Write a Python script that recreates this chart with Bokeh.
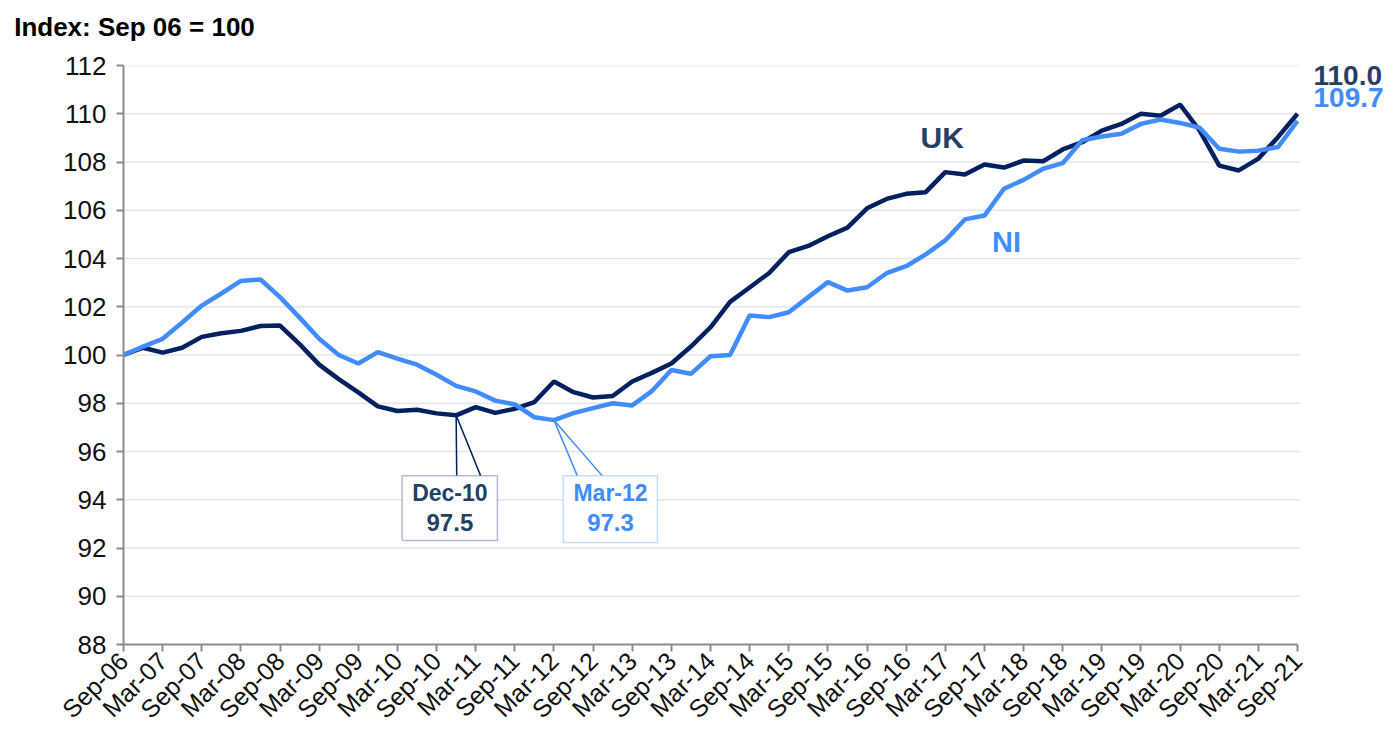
import math
from bokeh.plotting import figure
from bokeh.models import Range1d, FixedTicker, Label, BoxAnnotation, LinearAxis
from bokeh.embed import file_html
from bokeh.resources import INLINE

# ---- data (quarterly, Sep-06 .. Sep-21) ----
title_text = "Index: Sep 06 = 100"

tick_labels = ["Sep-06", "Mar-07", "Sep-07", "Mar-08", "Sep-08", "Mar-09", "Sep-09",
               "Mar-10", "Sep-10", "Mar-11", "Sep-11", "Mar-12", "Sep-12", "Mar-13",
               "Sep-13", "Mar-14", "Sep-14", "Mar-15", "Sep-15", "Mar-16", "Sep-16",
               "Mar-17", "Sep-17", "Mar-18", "Sep-18", "Mar-19", "Sep-19", "Mar-20",
               "Sep-20", "Mar-21", "Sep-21"]

uk = [100.0, 100.3, 100.1, 100.3, 100.75, 100.9, 101.0, 101.2, 101.22, 100.45,
      99.6, 99.0, 98.45, 97.87, 97.68, 97.73, 97.58, 97.5, 97.84, 97.6,
      97.77, 98.05, 98.9, 98.46, 98.24, 98.3, 98.9, 99.26, 99.65, 100.35,
      101.15, 102.2, 102.8, 103.4, 104.26, 104.52, 104.92, 105.28, 106.08, 106.47,
      106.68, 106.75, 107.58, 107.48, 107.9, 107.77, 108.06, 108.03, 108.52, 108.82,
      109.3, 109.58, 110.0, 109.92, 110.38, 109.3, 107.85, 107.65, 108.14, 109.03,
      110.0]

ni = [100.0, 100.35, 100.67, 101.35, 102.05, 102.55, 103.07, 103.13, 102.4, 101.55,
      100.67, 100.0, 99.65, 100.12, 99.85, 99.6, 99.18, 98.72, 98.49, 98.11,
      97.95, 97.42, 97.3, 97.59, 97.8, 98.0, 97.91, 98.5, 99.38, 99.22,
      99.95, 100.0, 101.64, 101.57, 101.77, 102.4, 103.02, 102.67, 102.81, 103.39,
      103.68, 104.17, 104.75, 105.62, 105.78, 106.89, 107.26, 107.72, 107.95, 108.9,
      109.06, 109.17, 109.58, 109.76, 109.62, 109.42, 108.55, 108.43, 108.47, 108.62,
      109.7]

y_ticks = list(range(88, 113, 2))

x = list(range(len(uk)))
x_last = len(uk) - 1

UK_LINE = "#002060"
NI_LINE = "#418CFF"
UK_TEXT = "#263F66"
FONT = "Liberation Sans"

W, H = 1392, 736
LEFT, RIGHT, TOP, BOTTOM = 123, 4, 65, 92
frame_w = W - LEFT - RIGHT
px_per_q = (1297 - 123) / x_last
x_end = frame_w / px_per_q

p = figure(width=W, height=H, x_range=Range1d(0, x_end), y_range=Range1d(88, 112),
           output_backend="svg", toolbar_location=None,
           min_border_left=LEFT, min_border_right=RIGHT, min_border_top=TOP,
           min_border_bottom=BOTTOM)
p.outline_line_color = None
p.background_fill_color = "white"
p.xgrid.visible = False
p.ygrid.visible = False

# title, drawn as the single label of an invisible axis above the frame
title_pos = 134 / px_per_q - 123 / px_per_q
tax = LinearAxis(ticker=FixedTicker(ticks=[title_pos]),
                 major_label_overrides={title_pos: title_text},
                 axis_line_color=None, major_tick_line_color=None,
                 minor_tick_line_color=None, major_tick_out=0, major_tick_in=0,
                 major_label_standoff=24,
                 major_label_text_font=FONT, major_label_text_font_style="bold",
                 major_label_text_font_size="26px", major_label_text_color="#000000")
p.add_layout(tax, "above")

p.yaxis.ticker = FixedTicker(ticks=y_ticks)
p.yaxis.minor_tick_line_color = None
p.yaxis.major_tick_in = 0
p.yaxis.major_tick_out = 7
p.yaxis.major_tick_line_color = "#8c8c8c"
p.yaxis.major_tick_line_width = 2
p.yaxis.axis_line_color = "#8c8c8c"
p.yaxis.axis_line_width = 2
p.yaxis.major_label_text_font = FONT
p.yaxis.major_label_text_font_size = "26px"
p.yaxis.major_label_text_color = "#111111"
p.yaxis.major_label_standoff = 10

xax = p.below[0]
xax.ticker = FixedTicker(ticks=list(range(0, x_last + 1, 2)))
xax.bounds = (0, x_last)
xax.major_label_overrides = {i * 2: lab for i, lab in enumerate(tick_labels)}
xax.major_label_orientation = math.pi / 4
xax.minor_tick_line_color = None
xax.major_tick_in = 0
xax.major_tick_out = 7
xax.major_tick_line_color = "#8c8c8c"
xax.major_tick_line_width = 2
xax.axis_line_color = "#8c8c8c"
xax.axis_line_width = 2
xax.major_label_text_font = FONT
xax.major_label_text_font_size = "25px"
xax.major_label_text_color = "#111111"
xax.major_label_standoff = 5

# horizontal gridlines limited to the data span
g = y_ticks[1:]
p.segment(x0=[0] * len(g), x1=[x_last + 0.15] * len(g), y0=g, y1=g,
          line_color="#e4e6eb", line_width=1.5)

p.line(x, uk, line_color=UK_LINE, line_width=4.5)
p.line(x, ni, line_color=NI_LINE, line_width=4.5)

# series labels
p.add_layout(Label(x=41.84, y=109.02, text="UK", text_font=FONT, text_font_style="bold",
                   text_font_size="30px", text_color=UK_TEXT, text_align="center",
                   text_baseline="middle"))
p.add_layout(Label(x=45.13, y=104.7, text="NI", text_font=FONT, text_font_style="bold",
                   text_font_size="29px", text_color=NI_LINE, text_align="center",
                   text_baseline="middle"))

# end labels
p.add_layout(Label(x=x_last, y=111.6, x_offset=16, text=f"{uk[-1]:.1f}", text_font=FONT,
                   text_font_style="bold", text_font_size="28px", text_color=UK_TEXT,
                   text_align="left", text_baseline="middle"))
p.add_layout(Label(x=x_last, y=110.68, x_offset=16, text=f"{ni[-1]:.1f}", text_font=FONT,
                   text_font_style="bold", text_font_size="28px", text_color=NI_LINE,
                   text_align="left", text_baseline="middle"))

# callouts
def callout(idx, val, label, color, tcolor, box_l, box_r, box_b, tip_a, tip_b, tx):
    top = 95.0
    p.segment(x0=[idx, idx], y0=[val, val], x1=[tip_a, tip_b], y1=[top, top],
              line_color=color, line_width=1.5)
    p.add_layout(BoxAnnotation(left=box_l, right=box_r, bottom=box_b, top=top,
                               fill_color="white", fill_alpha=1.0,
                               line_color=color, line_width=1.5))
    p.add_layout(Label(x=tx, y=94.26, text=label, text_font=FONT, text_font_style="bold",
                       text_font_size="23px", text_color=tcolor, text_align="center",
                       text_baseline="middle"))
    p.add_layout(Label(x=tx, y=93.06, text=f"{val:.1f}", text_font=FONT,
                       text_font_style="bold", text_font_size="24px", text_color=tcolor,
                       text_align="center", text_baseline="middle"))

callout(17, uk[17], "Dec-10", UK_LINE, UK_TEXT, 14.24, 19.11, 92.31, 17.03, 18.25, 16.68)
callout(22, ni[22], "Mar-12", NI_LINE, NI_LINE, 22.47, 27.29, 92.23, 23.19, 24.46, 24.89)

open("out.html", "w").write(file_html(p, INLINE))
